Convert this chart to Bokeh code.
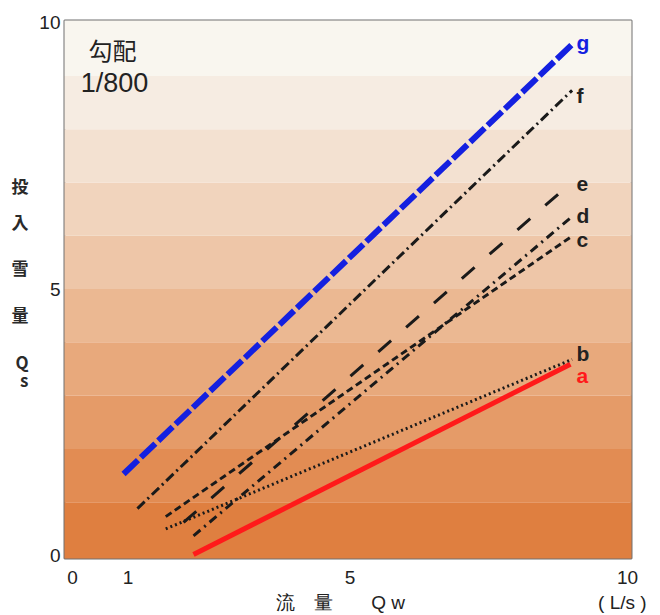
from bokeh.plotting import figure
from bokeh.models import Label, FixedTicker, Range1d, LinearAxis
from bokeh.embed import file_html
from bokeh.resources import INLINE

# ---- data ----
series = ["a", "b", "c", "d", "e", "f", "g"]
qw_start = [2.18, 1.68, 1.68, 2.18, 2.00, 1.17, 0.92]
qs_start = [0.02, 0.50, 0.73, 0.37, 0.62, 0.88, 1.53]
qw_end = [8.97, 9.00, 8.98, 9.00, 9.00, 9.00, 9.00]
qs_end = [3.59, 3.68, 5.98, 6.36, 7.01, 8.73, 9.59]

x_ticks = [0, 1, 5, 10]
y_ticks = [0, 5, 10]
x_title = "流　量　　Q w"
x_unit = "(  L/s  )"
y_chars = ["投", "入", "雪", "量", "Q", "s"]

# background bands (one per unit of Qs), bottom to top
band_levels = [0, 1, 2, 3, 4, 5, 6, 7, 8, 9, 10]
band_colors = ["#df7f40", "#e28c53", "#e59b68", "#e8a97c", "#ebb892",
               "#eec6a8", "#f1d4bd", "#f3e1d1", "#f6ece2", "#f9f6ef"]

# styles
line_colors = ["#ff1a1a", "#1a1a1a", "#1a1a1a", "#1a1a1a", "#1a1a1a", "#1a1a1a", "#1420e0"]
line_widths = [5, 3, 3, 3, 3, 3, 6]
line_dashes = ["solid", "2 3", "7 4", "9 5 2 5", "17 20", "10 4 2 4", "20 4"]
label_colors = ["#ff1a1a", "#222222", "#222222", "#222222", "#222222", "#222222", "#1420e0"]
label_y = [3.38, 3.80, 5.93, 6.39, 6.97, 8.64, 9.63]
y_char_pos = [6.95, 6.26, 5.40, 4.52, 3.64, 3.31]

p = figure(width=660, height=615, output_backend="svg", toolbar_location=None,
           x_range=Range1d(-0.144, 10.07), y_range=Range1d(-0.056, 10.04),
           min_border_left=64, min_border_right=29, min_border_top=20, min_border_bottom=55)

p.xgrid.visible = False
p.ygrid.visible = False
p.background_fill_color = "white"
p.border_fill_color = "white"
p.outline_line_color = "#707070"
p.outline_line_width = 2

# bands
bottoms = [band_levels[0] - 1] + band_levels[1:-1]
tops = band_levels[1:-1] + [band_levels[-1] + 1]
p.quad(left=-1, right=11, bottom=bottoms, top=tops, fill_color=band_colors,
       line_color=None)

for i, s in enumerate(series):
    p.line([qw_start[i], qw_end[i]], [qs_start[i], qs_end[i]],
           line_color=line_colors[i], line_width=line_widths[i],
           line_dash=line_dashes[i], line_cap="butt")
    p.add_layout(Label(x=9.08, y=label_y[i], text=s, text_color=label_colors[i],
                       text_font="Liberation Sans", text_font_style="bold",
                       text_font_size="21px", text_baseline="middle", text_align="left"))


def style_axis(ax, size="19px", font="Liberation Sans"):
    ax.axis_line_color = None
    ax.major_tick_line_color = None
    ax.minor_tick_line_color = None
    ax.major_tick_out = 0
    ax.major_tick_in = 0
    ax.major_label_text_font = font
    ax.major_label_text_font_size = size
    ax.major_label_text_color = "#222222"


# bottom axis: ticks, plus title and unit on a second line
x_label_ticks = x_ticks + [4.83]
p.xaxis.ticker = FixedTicker(ticks=x_label_ticks)
overrides = {t: str(t) for t in x_ticks}
overrides[10] = "10\n" + x_unit
overrides[4.83] = "\n" + x_title
p.xaxis.major_label_overrides = overrides
style_axis(p.xaxis)
p.xaxis.major_label_standoff = 8

# left axis
p.yaxis.ticker = FixedTicker(ticks=y_ticks)
style_axis(p.yaxis)
p.yaxis.major_label_standoff = 4

# second left axis carrying the stacked y title characters
ytitle_axis = LinearAxis(ticker=FixedTicker(ticks=y_char_pos),
                         major_label_overrides=dict(zip(y_char_pos, y_chars)))
style_axis(ytitle_axis, size="17px", font="Noto Sans CJK JP")
ytitle_axis.major_label_standoff = 8
ytitle_axis.major_label_text_font_style = "bold"
ytitle_axis.major_label_text_color = "#2a2a2a"
p.add_layout(ytitle_axis, "left")

# annotations inside the frame
p.add_layout(Label(x=0.29, y=9.49, text="勾配", text_font="Noto Sans CJK JP",
                   text_font_size="24px", text_color="#222222", text_baseline="middle"))
p.add_layout(Label(x=0.15, y=8.87, text="1/800", text_font="Liberation Sans",
                   text_font_size="27px", text_color="#222222", text_baseline="middle"))

open("out.html", "w").write(file_html(p, INLINE))
